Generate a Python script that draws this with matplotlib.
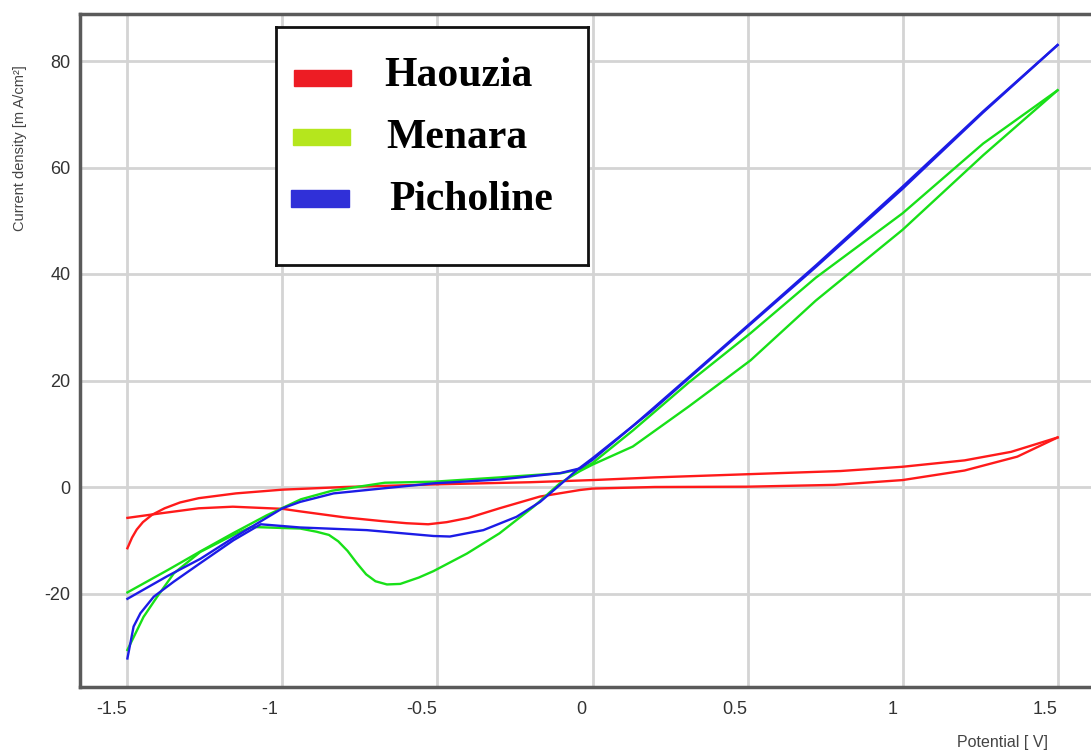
import matplotlib
matplotlib.use("Agg")
import matplotlib.pyplot as plt
from matplotlib.patches import Rectangle

# ---------------- data ----------------
labels = ["Haouzia", "Menara", "Picholine"]

# Haouzia (red) - anodic branch and cathodic branch
red_fwd_v = [-1.5, -1.485, -1.47, -1.45, -1.42, -1.38, -1.33, -1.27, -1.15, -1.0, -0.8, -0.5, -0.2, 0.0, 0.2, 0.5, 0.8, 1.0, 1.2, 1.35, 1.5]
red_fwd_j = [-11.5, -9.5, -8.0, -6.6, -5.2, -4.0, -2.9, -2.1, -1.2, -0.5, 0.0, 0.5, 0.9, 1.3, 1.8, 2.4, 3.0, 3.8, 5.0, 6.6, 9.3]
red_rev_v = [1.5, 1.37, 1.2, 1.0, 0.78, 0.5, 0.2, 0.0, -0.04, -0.17, -0.3, -0.4, -0.47, -0.53, -0.6, -0.68, -0.8, -0.94, -1.0, -1.16, -1.27, -1.4, -1.5]
red_rev_j = [9.3, 5.7, 3.1, 1.3, 0.4, 0.06, 0.0, -0.3, -0.56, -1.8, -4.0, -5.8, -6.6, -7.0, -6.8, -6.4, -5.7, -4.6, -4.1, -3.7, -4.0, -5.0, -5.8]

# Menara (green)
green_fwd_v = [-1.5, -1.37, -1.265, -1.16, -1.05, -0.94, -0.84, -0.67, -0.51, -0.3, -0.1, -0.03, 0.0, 0.13, 0.31, 0.51, 0.72, 1.0, 1.26, 1.5]
green_fwd_j = [-19.8, -15.6, -12.1, -8.7, -5.3, -2.3, -0.7, 0.8, 1.0, 1.8, 2.6, 3.5, 4.5, 10.6, 19.6, 28.9, 39.3, 51.4, 64.5, 74.5]
green_rev_v = [1.5, 1.26, 1.0, 0.72, 0.51, 0.43, 0.31, 0.13, 0.0, -0.04, -0.105, -0.19, -0.3, -0.405, -0.513, -0.56, -0.62, -0.663,
               -0.70, -0.73, -0.76, -0.79, -0.82, -0.85, -0.89, -0.943, -1.0, -1.1, -1.158, -1.265, -1.35, -1.404, -1.448, -1.5]
green_rev_j = [74.5, 62.3, 48.3, 35.0, 23.8, 20.3, 15.1, 7.6, 4.2, 3.0, 0.7, -3.7, -8.7, -12.5, -15.8, -17.0, -18.2, -18.3,
               -17.7, -16.4, -14.3, -12.0, -10.2, -9.0, -8.4, -7.8, -7.7, -7.5, -9.0, -12.2, -16.2, -20.6, -24.4, -30.6]

# Picholine (blue)
blue_fwd_v = [-1.5, -1.37, -1.265, -1.16, -1.0, -0.943, -0.835, -0.674, -0.51, -0.3, -0.105, -0.04, 0.0, 0.131, 0.2, 0.314, 0.508, 0.722, 1.0, 1.259, 1.5]
blue_fwd_j = [-21.0, -16.7, -13.5, -9.6, -4.0, -2.8, -1.2, -0.25, 0.7, 1.4, 2.6, 3.5, 5.1, 11.5, 15.0, 20.8, 30.7, 41.7, 56.4, 70.5, 83.0]
blue_rev_v = [1.5, 1.259, 1.0, 0.722, 0.508, 0.314, 0.185, 0.0, -0.05, -0.105, -0.169, -0.245, -0.352, -0.46, -0.513, -0.728,
              -0.943, -1.07, -1.158, -1.265, -1.351, -1.415, -1.458, -1.48, -1.5]
blue_rev_j = [83.0, 70.3, 56.0, 41.4, 30.5, 20.6, 14.0, 5.4, 3.2, 0.4, -2.8, -5.6, -8.1, -9.3, -9.2, -8.1,
              -7.6, -7.0, -10.0, -14.3, -17.8, -20.6, -23.7, -26.2, -32.2]

x_ticks = [-1.5, -1.0, -0.5, 0.0, 0.5, 1.0, 1.5]
x_tick_labels = ["-1.5", "-1 ", "-0.5", "0 ", "0.5", "1 ", "1.5"]
y_ticks = [-20, 0, 20, 40, 60, 80]
y_tick_labels = ["-20", "0", "20", "40", "60", "80"]

line_colors = ["#ff1a1a", "#18e018", "#1c1ce6"]
legend_colors = ["#ed1c24", "#b5e61d", "#3030d8"]

# ---------------- figure ----------------
W, H = 1091, 751
fig = plt.figure(figsize=(W / 100, H / 100), dpi=100)
fig.patch.set_facecolor("white")

L, R, T, B = 80, 1091, 14, 687
ax = fig.add_axes([L / W, 1 - B / H, (R - L) / W, (B - T) / H])

x_per_px = 3.0 / (1057.5 - 127.3)
x0px = 592.5
ax.set_xlim((L - x0px) * x_per_px, (R - x0px) * x_per_px)
j_per_px = 80.0 / (487 - 61)
ax.set_ylim((487 - B) * j_per_px, (487 - T) * j_per_px)

series = [
    (red_fwd_v, red_fwd_j, red_rev_v, red_rev_j),
    (green_fwd_v, green_fwd_j, green_rev_v, green_rev_j),
    (blue_fwd_v, blue_fwd_j, blue_rev_v, blue_rev_j),
]
for (fv, fj, rv, rj), c in zip(series, line_colors):
    ax.plot(fv, fj, color=c, lw=1.7, solid_joinstyle="round", zorder=3)
    ax.plot(rv, rj, color=c, lw=1.7, solid_joinstyle="round", zorder=3)

ax.set_xticks(x_ticks)
ax.set_xticklabels(x_tick_labels, ha="right")
ax.set_yticks(y_ticks)
ax.set_yticklabels(y_tick_labels)
ax.tick_params(length=0, labelsize=13, labelcolor="#333333")
ax.tick_params(axis="x", pad=10)
ax.tick_params(axis="y", pad=7)
for lab in ax.get_xticklabels() + ax.get_yticklabels():
    lab.set_family("Liberation Sans")

ax.grid(True, color="#d4d4d4", lw=2)
ax.set_axisbelow(True)
for s in ["left", "bottom", "top"]:
    ax.spines[s].set_color("#5a5a5a")
    ax.spines[s].set_linewidth(2.5)
ax.spines["right"].set_visible(False)

fig.text(20 / W, 1 - 148 / H, "Current density [m A/cm\u00b2]", rotation=90,
         ha="center", va="center", fontsize=10.5, color="#444444", family="Liberation Sans")
fig.text(1048 / W, 1 - 742 / H, "Potential [ V]", ha="right", va="center",
         fontsize=11.5, color="#444444", family="Liberation Sans")

# ---------------- legend (drawn in its own pixel-space axes) ----------------
lx0, ly0, lx1, ly1 = 276, 27, 588, 265
lax = fig.add_axes([lx0 / W, 1 - ly1 / H, (lx1 - lx0) / W, (ly1 - ly0) / H])
lax.set_xlim(lx0, lx1)
lax.set_ylim(ly1, ly0)
lax.set_xticks([])
lax.set_yticks([])
lax.set_facecolor("white")
for s in lax.spines.values():
    s.set_color("#111111")
    s.set_linewidth(2)

handle_boxes = [(294, 70, 57, 16), (293, 129, 57, 16), (291, 190, 58, 17)]
text_pos = [(384, 76), (386, 138), (389, 200)]
for (hx, hy, hw, hh), (tx, ty), c, lab in zip(handle_boxes, text_pos, legend_colors, labels):
    lax.add_patch(Rectangle((hx, hy), hw, hh, color=c))
    lax.text(tx, ty, lab, ha="left", va="center", fontsize=30, fontweight="bold",
             family="Liberation Serif", color="black")

fig.savefig("out.png", dpi=100, facecolor="white")
